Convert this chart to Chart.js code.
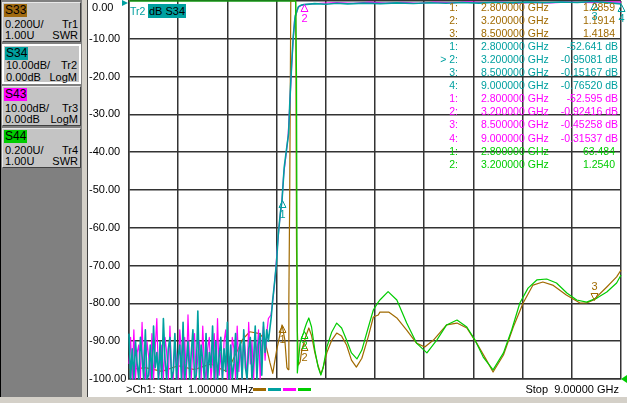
<!DOCTYPE html>
<html>
<head>
<meta charset="utf-8">
<script src="https://cdn.jsdelivr.net/npm/chart.js@4.4.0/dist/chart.umd.min.js"></script>
<style>
  body { margin:0; width:627px; height:403px; background:#d4d0c8; position:relative; overflow:hidden;
         font-family:"Liberation Sans", Arial, sans-serif; color:#000; }
  #panel { position:absolute; left:0; top:0; width:81px; height:397px; background:#808080; border-left:1px solid #000; }
  .btn { position:absolute; left:1px; width:77px; height:38px; background:#c4c4c4;
         border:1px solid; border-color:#e8e8e8 #404040 #404040 #e8e8e8; font-size:11px; }
  .btn.sel { border:2px solid #fff; width:75px; height:36px; }
  .btn .lab { position:absolute; left:1px; top:1px; height:13px; line-height:13px; font-size:12px; padding:0 1px; }
  .btn .l { position:absolute; left:2px; }
  .btn .r { position:absolute; right:2px; }
  #sep { position:absolute; left:87px; top:0; width:1px; height:397px; background:#404040; }
  #plot { position:absolute; left:88px; top:0; width:539px; height:397px; background:#fff; }
  .txt { position:absolute; white-space:pre; font-size:11px; line-height:13px; }
  .ro { position:absolute; white-space:pre; font-size:10.5px; line-height:13px; }
  .seg { position:absolute; top:388px; height:3px; width:13px; }
</style>
</head>
<body>
<div id="panel">
  <div class="btn" style="top:2px">
    <span class="lab" style="background:#a06a10">S33</span>
    <span class="l" style="top:15px">0.200U/</span><span class="r" style="top:15px">Tr1</span>
    <span class="l" style="top:26px">1.00U</span><span class="r" style="top:26px">SWR</span>
  </div>
  <div class="btn sel" style="top:44px">
    <span class="lab" style="background:#00a0a0">S34</span>
    <span class="l" style="top:13px">10.00dB/</span><span class="r" style="top:13px">Tr2</span>
    <span class="l" style="top:25px">0.00dB</span><span class="r" style="top:25px">LogM</span>
  </div>
  <div class="btn" style="top:86px">
    <span class="lab" style="background:#ff00ff">S43</span>
    <span class="l" style="top:15px">10.00dB/</span><span class="r" style="top:15px">Tr3</span>
    <span class="l" style="top:26px">0.00dB</span><span class="r" style="top:26px">LogM</span>
  </div>
  <div class="btn" style="top:128px">
    <span class="lab" style="background:#00cc00">S44</span>
    <span class="l" style="top:15px">0.200U/</span><span class="r" style="top:15px">Tr4</span>
    <span class="l" style="top:26px">1.00U</span><span class="r" style="top:26px">SWR</span>
  </div>
</div>
<div id="sep"></div>
<div id="plot"><canvas id="vna"></canvas></div>

<div class="txt" style="left:130px; top:5px; color:#00a0a0; font-size:10.5px; line-height:13px">Tr2</div>
<div class="txt" style="left:148px; top:4px; background:#00a0a0; font-size:11px; line-height:14px; padding:0 1px">dB S34</div>
<div style="position:absolute; left:122px; top:0; width:0; height:0; border-top:3px solid transparent; border-bottom:3px solid transparent; border-left:6px solid #00a0a0"></div>
<div style="position:absolute; left:621px; top:375px; width:0; height:0; border-top:4px solid transparent; border-bottom:4px solid transparent; border-right:6px solid #00cc00"></div>

<div id="readout"></div>

<div class="txt" style="left:126px; top:383px">&gt;Ch1: Start  1.00000 MHz</div>
<div class="seg" style="left:253px; background:#a06a00"></div>
<div class="seg" style="left:268px; background:#00a0a0"></div>
<div class="seg" style="left:283px; background:#ff00ff"></div>
<div class="seg" style="left:298px; background:#00cc00"></div>
<div class="txt" style="right:8px; top:383px">Stop  9.00000 GHz</div>

<script>
// sweep 1 MHz .. 9 GHz
const Y_TICKS = [0, -10, -20, -30, -40, -50, -60, -70, -80, -90, -100];
const X_GRID = [0.001, 0.9, 1.8, 2.7, 3.6, 4.5, 5.4, 6.3, 7.2, 8.1, 9.0];

// noise floor part of the two transmission traces (GHz)
const NOISE_F = [0.001,0.03,0.06,0.09,0.12,0.15,0.18,0.21,0.24,0.27,0.30,0.33,0.36,0.39,0.42,0.45,0.48,0.51,0.54,0.57,
  0.60,0.63,0.66,0.69,0.72,0.75,0.78,0.81,0.84,0.87,0.90,0.93,0.96,0.99,1.02,1.05,1.08,1.11,1.14,1.17,
  1.20,1.23,1.26,1.29,1.32,1.35,1.38,1.41,1.44,1.47,1.50,1.53,1.56,1.59,1.62,1.65,1.68,1.71,1.74,1.77,
  1.80,1.83,1.86,1.89,1.92,1.95,1.98,2.01,2.04,2.07,2.10,2.13,2.16,2.19,2.22,2.25,2.28,2.31,2.34,2.37,
  2.40,2.43,2.46,2.49,2.52,2.55];

// Tr2 S34 LogM (dB)
const S34_NOISE = [-88,-100,-92,-100,-90,-96,-100,-89,-94,-100,-87,-100,-99,-91,-100,-86,-97,-93,-100,-90,
  -100,-84,-95,-100,-92,-89,-100,-98,-88,-100,-94,-91,-100,-85,-100,-96,-90,-100,-93,-87,
  -100,-99,-82,-100,-91,-95,-100,-88,-100,-93,-97,-86,-100,-90,-100,-94,-89,-100,-92,-98,
  -85,-100,-91,-100,-96,-88,-100,-93,-90,-100,-87,-97,-100,-92,-89,-100,-95,-86,-100,-91,
  -88,-99,-85,-93,-87,-90];
const S34_F = [...NOISE_F, 2.60,2.63,2.66,2.70,2.73,2.77,2.80,2.84,2.88,2.92,2.945,2.975,3.005,3.04,3.10,3.15,3.20,
  3.4,3.6,3.8,4.0,4.3,4.6,4.9,5.2,5.5,5.8,6.1,6.4,6.7,7.0,7.3,7.6,7.9,8.2,8.5,8.8,9.0];
const S34_DB = [...S34_NOISE, -84,-79,-75,-69,-62,-56,-52.641,-44,-39.5,-35,-26,-17,-9.5,-4,-1.5,-1.1,-0.95081,
  -0.7,-0.85,-0.6,-0.75,-0.55,-0.7,-0.5,-0.65,-0.45,-0.6,-0.4,-0.55,-0.35,-0.5,-0.3,-0.45,-0.25,-0.4,-0.15167,-0.5,-0.7652];

// Tr3 S43 LogM (dB)
const S43_NOISE = [-96,-89,-100,-87,-100,-93,-91,-100,-85,-98,-100,-90,-94,-100,-88,-100,-92,-84,-100,-97,
  -91,-100,-89,-93,-100,-86,-99,-100,-90,-95,-100,-87,-93,-100,-89,-100,-83,-96,-100,-91,
  -88,-100,-94,-90,-100,-86,-97,-100,-92,-89,-100,-95,-88,-100,-84,-99,-93,-100,-90,-87,
  -100,-94,-100,-89,-92,-100,-86,-98,-91,-100,-88,-93,-100,-85,-96,-90,-100,-89,-94,-87,
  -100,-91,-86,-95,-88,-84];
const S43_F = [...NOISE_F, 2.60,2.64,2.68,2.71,2.75,2.78,2.80,2.83,2.87,2.91,2.94,2.97,3.00,3.03,3.09,3.15,3.20,
  3.5,3.8,4.1,4.4,4.7,5.0,5.3,5.6,5.9,6.2,6.5,6.8,7.1,7.4,7.7,8.0,8.3,8.5,8.8,9.0];
const S43_DB = [...S43_NOISE, -83,-78,-72,-66,-59,-55,-52.595,-46,-41,-36,-28,-19,-11,-5,-1.8,-1.2,-0.92416,
  -0.6,-0.4,-0.65,-0.3,-0.55,-0.35,-0.6,-0.3,-0.5,-0.25,-0.45,-0.3,-0.55,-0.35,-0.5,-0.3,-0.4,-0.45258,-0.25,-0.31537];

// Tr1 S33 SWR
const S33_F = [0.001,0.3,0.6,0.9,1.2,1.5,1.7,1.8,1.9,2.0,2.08,2.21,2.39,2.48,2.58,2.63,2.70,2.80,2.85,2.89,
  2.91,2.925,2.94,2.96,3.05,3.065,3.08,3.10,3.13,3.16,3.20,3.24,3.29,3.34,3.40,3.46,3.51,3.55,3.62,3.71,
  3.80,3.89,3.98,4.07,4.16,4.26,4.38,4.47,4.56,4.59,4.75,4.90,5.08,5.26,5.41,5.57,5.81,6.00,6.18,6.36,
  6.54,6.66,6.85,7.03,7.21,7.39,7.57,7.75,8.00,8.25,8.37,8.50,8.74,8.92,9.00];
const S33_SWR = [1.05,1.06,1.04,1.07,1.05,1.08,1.05,1.04,1.10,1.16,1.21,1.25,1.24,1.21,1.085,1.03,1.15,1.2859,1.21,1.06,
  1.05,1.42,1.95,12,12,1.70,1.26,1.075,1.09,1.15,1.1914,1.23,1.27,1.23,1.14,1.07,1.026,1.058,1.14,1.206,
  1.243,1.227,1.18,1.10,1.063,1.11,1.227,1.328,1.339,1.354,1.354,1.323,1.259,1.190,1.169,1.206,1.286,1.296,1.270,1.190,
  1.10,1.037,1.127,1.275,1.402,1.497,1.513,1.497,1.444,1.402,1.402,1.4184,1.487,1.540,1.577];

// Tr4 S44 SWR
const S44_F = [0.001,1.0,2.0,2.8,3.0,3.05,3.065,3.08,3.13,3.19,3.20,3.25,3.29,3.34,3.40,3.46,3.51,3.55,3.62,3.71,
  3.80,3.89,3.98,4.07,4.17,4.26,4.38,4.47,4.56,4.59,4.74,4.90,5.08,5.26,5.45,5.63,5.81,6.00,6.18,6.33,
  6.48,6.66,6.85,7.00,7.15,7.30,7.46,7.64,7.82,8.01,8.19,8.37,8.56,8.74,8.92,9.00];
const S44_SWR = [95,88,76,63.484,14,4.5,2.6,1.032,1.190,1.243,1.2540,1.296,1.323,1.275,1.153,1.063,1.021,1.058,1.169,1.249,
  1.296,1.270,1.206,1.138,1.106,1.153,1.275,1.365,1.407,1.418,1.462,1.418,1.296,1.190,1.138,1.206,1.286,1.312,1.275,1.206,
  1.116,1.048,1.138,1.259,1.402,1.481,1.524,1.529,1.508,1.455,1.418,1.407,1.428,1.460,1.508,1.550];

// marker readout
const S33_MK_F = [2.8, 3.2, 8.5];
const S33_MK_V = [1.2859, 1.1914, 1.4184];
const S34_MK_F = [2.8, 3.2, 8.5, 9.0];
const S34_MK_V = [-52.641, -0.95081, -0.15167, -0.76520];
const S43_MK_F = [2.8, 3.2, 8.5, 9.0];
const S43_MK_V = [-52.595, -0.92416, -0.45258, -0.31537];
const S44_MK_F = [2.8, 3.2];
const S44_MK_V = [63.484, 1.2540];

const C_S33 = '#a06a00', C_S34 = '#00a0a0', C_S43 = '#ff00ff', C_S44 = '#00cc00';
const SWR_TOP = 3.0; // 1.00U ref at bottom, 0.200U/div

const TRACES = {
  s33: { f: S33_F, v: S33_SWR, mkF: S33_MK_F, mkV: S33_MK_V, color: C_S33, axis: 'swr', unit: '', w: 1.2 },
  s34: { f: S34_F, v: S34_DB, mkF: S34_MK_F, mkV: S34_MK_V, color: C_S34, axis: 'y', unit: ' dB', w: 1.6 },
  s43: { f: S43_F, v: S43_DB, mkF: S43_MK_F, mkV: S43_MK_V, color: C_S43, axis: 'y', unit: ' dB', w: 1.2 },
  s44: { f: S44_F, v: S44_SWR, mkF: S44_MK_F, mkV: S44_MK_V, color: C_S44, axis: 'swr', unit: '', w: 1.2 }
};

// which markers are shown on the grid, and on which side of the trace
const MARKER_DRAW = [
  ['s33', 0, 'below'], ['s33', 1, 'below'], ['s33', 2, 'above'],
  ['s34', 0, 'below'], ['s34', 2, 'below'], ['s34', 3, 'below'],
  ['s43', 1, 'below'],
  ['s44', 1, 'below']
];

// readout lines on the top right
function buildReadout() {
  const box = document.getElementById('readout');
  let row = 0;
  ['s33', 's34', 's43', 's44'].forEach(key => {
    const t = TRACES[key];
    t.mkF.forEach((f, i) => {
      const top = Math.round(0.5 + row * 13.1);
      const idx = (key === 's34' && i === 1 ? '> ' : '') + (i + 1) + ':';
      const valRight = t.unit ? 627 - 618 : 627 - 615;
      box.insertAdjacentHTML('beforeend',
        `<div class="ro" style="right:${627 - 458}px; top:${top}px; color:${t.color}">${idx.replace('>', '&gt;')}</div>` +
        `<div class="ro" style="left:481px; top:${top}px; color:${t.color}">${f.toFixed(6)} GHz</div>` +
        `<div class="ro" style="right:${valRight}px; top:${top}px; color:${t.color}">${t.mkV[i].toPrecision(5)}${t.unit}</div>`);
      row++;
    });
  });
}

const markerPlugin = {
  id: 'markers',
  afterDatasetsDraw(chart) {
    const ctx = chart.ctx;
    const xs = chart.scales.x;
    ctx.save();
    ctx.font = '11px "Liberation Sans", Arial, sans-serif';
    ctx.textAlign = 'center';
    ctx.textBaseline = 'middle';
    ctx.lineWidth = 1;
    MARKER_DRAW.forEach(([key, i, side]) => {
      const t = TRACES[key];
      const ys = chart.scales[t.axis];
      const v = Math.min(t.mkV[i], ys.max);
      const px = Math.round(xs.getPixelForValue(t.mkF[i])) + 0.5;
      const py = Math.round(ys.getPixelForValue(v)) + 0.5;
      const d = side === 'below' ? 1 : -1;
      ctx.strokeStyle = t.color;
      ctx.fillStyle = t.color;
      ctx.beginPath();
      ctx.moveTo(px, py);
      ctx.lineTo(px - 3.5, py + 7 * d);
      ctx.lineTo(px + 3.5, py + 7 * d);
      ctx.closePath();
      ctx.stroke();
      ctx.fillText(String(i + 1), px, py + 14 * d);
    });
    ctx.restore();
  }
};

function series(key, order) {
  const t = TRACES[key];
  const top = t.axis === 'swr' ? SWR_TOP : 0;
  return {
    data: t.f.map((f, i) => ({ x: f, y: Math.min(t.v[i], top) })), // analyser pins off-scale points to the top line
    borderColor: t.color,
    borderWidth: t.w,
    borderJoinStyle: 'round',
    pointRadius: 0,
    tension: 0,
    yAxisID: t.axis,
    order: order,
    clip: 3
  };
}

buildReadout();

new Chart(document.getElementById('vna'), {
  type: 'line',
  data: {
    datasets: [series('s44', 0), series('s34', 1), series('s43', 2), series('s33', 3)]
  },
  options: {
    responsive: true,
    maintainAspectRatio: false,
    animation: false,
    layout: { padding: { left: 1, top: 1, right: 6, bottom: 18 } },
    plugins: { legend: { display: false }, tooltip: { enabled: false } },
    scales: {
      x: {
        type: 'linear', min: X_GRID[0], max: X_GRID[X_GRID.length - 1],
        afterBuildTicks: s => { s.ticks = X_GRID.map(v => ({ value: v })); },
        afterFit: s => { s.height = 0; s.paddingLeft = 0; s.paddingRight = 0; },
        ticks: { display: false },
        grid: { color: '#333', lineWidth: 1.5, drawTicks: false },
        border: { color: '#333', width: 1.5 }
      },
      y: {
        position: 'left', min: -100, max: 0,
        afterBuildTicks: s => { s.ticks = Y_TICKS.map(v => ({ value: v })); },
        afterFit: s => { s.width = 40; s.paddingTop = 0; s.paddingBottom = 0; },
        ticks: {
          autoSkip: false, crossAlign: 'far', padding: 0, color: '#000',
          font: { family: '"Liberation Sans", Arial, sans-serif', size: 11 },
          callback: v => v === 0 ? ['', ' 0.00'] : v.toFixed(2)
        },
        grid: { color: '#333', lineWidth: 1.5, drawTicks: false },
        border: { color: '#333', width: 1.5 }
      },
      swr: { display: false, min: 1, max: SWR_TOP }
    }
  },
  plugins: [markerPlugin]
});
</script>
</body>
</html>
